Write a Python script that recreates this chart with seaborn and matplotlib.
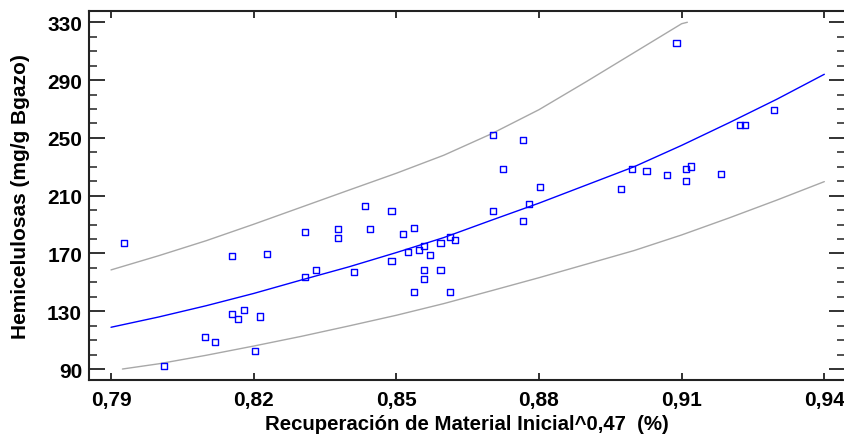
import numpy as np
import pandas as pd
import matplotlib
matplotlib.use('Agg')
import matplotlib.pyplot as plt
from matplotlib.ticker import MultipleLocator, FixedLocator, FixedFormatter
import seaborn as sns

x_obs = [0.7927, 0.8012, 0.8097, 0.8119, 0.8155, 0.8155, 0.8167, 0.8180, 0.8202,
         0.8213, 0.8228, 0.8308, 0.8308, 0.8331, 0.8378, 0.8378, 0.8411, 0.8434,
         0.8445, 0.8490, 0.8490, 0.8514, 0.8525, 0.8537, 0.8537, 0.8548, 0.8559,
         0.8559, 0.8559, 0.8570, 0.8593, 0.8593, 0.8613, 0.8613, 0.8624, 0.8703,
         0.8703, 0.8725, 0.8767, 0.8767, 0.8779, 0.8802, 0.8972, 0.8995, 0.9026,
         0.9069, 0.9089, 0.9109, 0.9109, 0.9120, 0.9183, 0.9223, 0.9234, 0.9295]
y_obs = [177.1, 92.1, 112.2, 108.5, 168.3, 128.3, 124.7, 130.7, 102.5,
         126.3, 169.7, 185.1, 153.5, 158.6, 186.7, 180.7, 157.2, 202.9,
         186.7, 199.2, 164.6, 183.7, 171.2, 187.7, 143.1, 172.6, 175.0,
         158.6, 152.1, 169.0, 177.1, 158.6, 181.4, 143.1, 179.3, 252.2,
         199.2, 228.7, 248.5, 192.5, 204.3, 216.0, 214.6, 228.7, 227.1,
         224.3, 315.7, 228.7, 220.4, 230.1, 225.0, 258.9, 258.9, 269.3]

# Modelo ajustado
x_ajuste = [0.79, 0.80, 0.81, 0.82, 0.83, 0.84, 0.85, 0.86, 0.87, 0.88,
            0.89, 0.90, 0.91, 0.92, 0.93, 0.94]
y_ajuste = [118.9, 126.0, 133.8, 142.3, 151.6, 160.7, 170.6, 181.0, 193.0, 204.8,
            217.4, 230.0, 244.8, 260.5, 276.7, 294.0]

# Límites de predicción
x_sup = [0.79, 0.80, 0.81, 0.82, 0.83, 0.84, 0.85, 0.86, 0.87, 0.88,
         0.89, 0.90, 0.91, 0.9112]
y_sup = [158.6, 168.4, 178.8, 190.2, 202.0, 213.8, 225.5, 238.0, 252.8, 269.5,
         289.0, 309.0, 329.0, 330.0]
x_inf = [0.7924, 0.80, 0.81, 0.82, 0.83, 0.84, 0.85, 0.86, 0.87, 0.88,
         0.89, 0.90, 0.91, 0.92, 0.93, 0.94]
y_inf = [90.0, 93.6, 99.5, 105.9, 112.6, 119.8, 127.2, 135.3, 144.2, 153.2,
         162.6, 172.0, 182.8, 194.6, 206.9, 219.7]

xticks = [0.79, 0.82, 0.85, 0.88, 0.91, 0.94]
xtick_labels = ['0,79', '0,82', '0,85', '0,88', '0,91', '0,94']
yticks = [90, 130, 170, 210, 250, 290, 330]

sns.set_theme(style='white')
plt.rcParams['font.family'] = ['Liberation Sans', 'DejaVu Sans']
plt.rcParams['font.weight'] = 'bold'
plt.rcParams['text.color'] = 'black'
plt.rcParams['axes.labelcolor'] = 'black'
plt.rcParams['xtick.color'] = 'black'
plt.rcParams['ytick.color'] = 'black'

fig = plt.figure(figsize=(8.45, 4.39), dpi=100)
ax = fig.add_axes([89 / 845, 1 - 381 / 439, 1 - 89 / 845, (381 - 12) / 439])

sns.lineplot(x=x_sup, y=y_sup, color='#a8a8a8', lw=1.0, sort=False, ax=ax)
sns.lineplot(x=x_inf, y=y_inf, color='#a8a8a8', lw=1.0, sort=False, ax=ax)
sns.lineplot(x=x_ajuste, y=y_ajuste, color='#0000ff', lw=1.0, sort=False, ax=ax)
sns.scatterplot(x=x_obs, y=y_obs, marker='s', s=20, facecolor='none',
                edgecolor='#0000ff', linewidth=1.0, ax=ax, zorder=5)

ax.set_xlim(0.78537, 0.94435)
ax.set_ylim(82.4, 337.8)

ax.xaxis.set_major_locator(FixedLocator(xticks))
ax.xaxis.set_major_formatter(FixedFormatter(xtick_labels))
ax.yaxis.set_major_locator(FixedLocator(yticks))
ax.yaxis.set_minor_locator(MultipleLocator(10))

ax.tick_params(axis='x', which='major', direction='in', length=5, width=1.3,
               top=True, bottom=True, labelsize=15, pad=7, color='#222222',
               labelcolor='black')
ax.tick_params(axis='y', which='major', direction='in', length=11.5, width=1.3,
               left=True, right=True, labelsize=15, pad=5, color='#222222',
               labelcolor='black')
ax.tick_params(axis='y', which='minor', direction='in', length=6, width=1.1,
               left=True, right=True, color='#222222')
for lab in ax.get_xticklabels() + ax.get_yticklabels():
    lab.set_fontweight('bold')

for lado in ['left', 'top', 'bottom']:
    ax.spines[lado].set_color('#222222')
    ax.spines[lado].set_linewidth(1.5)
ax.spines['right'].set_visible(False)

ax.set_xlabel('Recuperación de Material Inicial^0,47  (%)', fontsize=14.7,
              fontweight='bold', labelpad=4, color='black')
ax.set_ylabel('Hemicelulosas (mg/g Bgazo)', fontsize=15, fontweight='bold',
              labelpad=12, color='black')

fig.savefig('out.png', dpi=100)
